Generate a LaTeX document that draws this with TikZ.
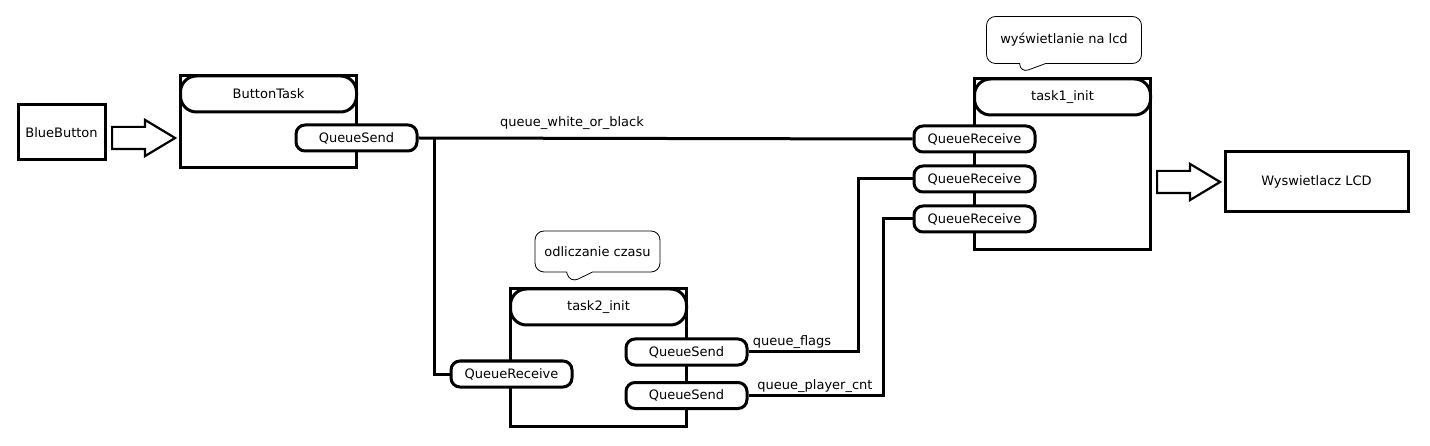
\documentclass[tikz,border=0pt]{standalone}
\usepackage{fontspec}
\setmainfont{DejaVu Sans}
\usetikzlibrary{shapes.arrows,shapes.callouts}

\begin{document}
\begin{tikzpicture}[x=1pt, y=-1pt, font=\fontsize{13}{15}\selectfont,
    box/.style={draw, line width=3pt, inner sep=0pt},
    task/.style={draw, line width=3pt, minimum width=176pt, inner sep=0pt},
    taskhead/.style={draw, line width=3pt, rounded corners=16pt, minimum width=176pt, minimum height=36pt, inner sep=0pt},
    queue/.style={draw, fill=white, line width=3pt, rounded corners=9pt, minimum width=121pt, minimum height=26pt, inner sep=0pt},
    link/.style={line width=3pt},
    push/.style={draw, single arrow, line width=2.2pt, minimum height=63pt, inner xsep=0pt, inner ysep=10pt, single arrow head extend=7pt, single arrow tip angle=62, anchor=tail},
    note/.style={draw, fill=white, rectangle callout, rounded corners=9pt, line width=0.8pt, callout pointer width=26pt, inner sep=0pt}]

    \useasboundingbox (0,0) rectangle (1430,446);

    \node[box, minimum width=87pt, minimum height=55pt] (blue) at (61.5,132.5) {BlueButton};
    \node[push] (press) at (111,138) {};

    \node[task, minimum height=92pt] (bt) at (268.5,122) {};
    \node[taskhead, anchor=north] (bthead) at (bt.north) {ButtonTask};
    \node[queue] (btsend) at (356.5,138) {QueueSend};

    \node[task, minimum height=171pt] (t1) at (1062.5,164.5) {};
    \node[taskhead, anchor=north] (t1head) at (t1.north) {task1\_init};
    \node[queue] (t1recv1) at (974.5,139) {QueueReceive};
    \node[queue] (t1recv2) at (974.5,179) {QueueReceive};
    \node[queue] (t1recv3) at (974.5,219) {QueueReceive};
    \node[note, minimum width=155pt, minimum height=47pt, callout absolute pointer={(1020,73)}] (t1note) at (1064,40) {wyświetlanie na lcd};

    \node[task, minimum height=137pt] (t2) at (598.5,357.5) {};
    \node[taskhead, anchor=north] (t2head) at (t2.north) {task2\_init};
    \node[queue] (t2recv) at (511.5,374) {QueueReceive};
    \node[queue] (t2send1) at (686.5,352) {QueueSend};
    \node[queue] (t2send2) at (686.5,395.5) {QueueSend};
    \node[note, minimum width=125pt, minimum height=41pt, callout absolute pointer={(570,283)}] (t2note) at (597.5,251.5) {odliczanie czasu};

    \node[push] (show) at (1156,182) {};
    \node[box, minimum width=183pt, minimum height=60pt] (lcd) at (1316.5,182) {Wyswietlacz LCD};

    \coordinate (fork) at (434,138);
    \coordinate (flagbend) at (858,352);
    \coordinate (cntbend) at (883,395.5);

    \draw[link] (btsend.east) -- (t1recv1.west);
    \draw[link] (fork) |- (t2recv.west);
    \draw[link] (t2send1.east) -- (flagbend) |- (t1recv2.west);
    \draw[link] (t2send2.east) -- (cntbend) |- (t1recv3.west);

    \node (lwhite) at (572,123) {queue\_white\_or\_black};
    \node (lflags) at (792,342) {queue\_flags};
    \node (lcnt) at (815,386) {queue\_player\_cnt};
\end{tikzpicture}
\end{document}
